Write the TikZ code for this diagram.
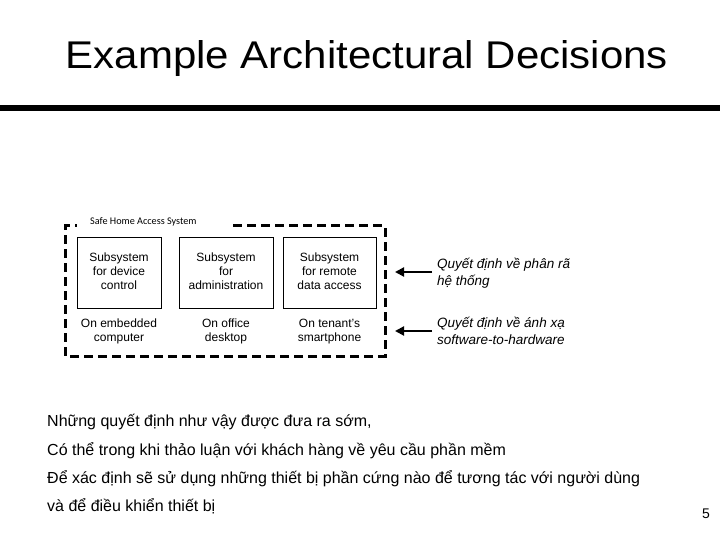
\documentclass[tikz,border=0pt]{standalone}
\usepackage{fontspec}
\setmainfont{Liberation Sans}
\newfontfamily\smallfont{Carlito}
\usetikzlibrary{arrows.meta}
\tikzset{
  subsys/.style={draw, line width=0.8bp, minimum height=71bp, align=center, inner sep=0pt,
    font=\fontsize{12bp}{14bp}\selectfont},
  hostlbl/.style={align=center, inner sep=0pt, font=\fontsize{12bp}{14bp}\selectfont},
  decision/.style={align=left, anchor=west, inner sep=0pt, font=\fontsize{13.5bp}{16.5bp}\selectfont\itshape},
  decarrow/.style={line width=2bp, -{Triangle[length=9bp,width=9bp]}},
  bodytext/.style={anchor=base west, inner sep=0pt, font=\fontsize{16bp}{18bp}\selectfont},
  frame/.style={line width=3bp, dash pattern=on 9bp off 5bp},
}
\begin{document}
\begin{tikzpicture}[x=1bp,y=-1bp]
\useasboundingbox (0,0) rectangle (720,540);
% title
\node[anchor=base, inner sep=0pt] (title) at (367,68.5)
  {\resizebox{602bp}{28bp}{\fontsize{40bp}{48bp}\selectfont Example Architectural Decisions}};
\fill (0,105) rectangle (720,111);
% frame
\draw[frame] (233,226) -- (385,226) -- (385,356) -- (65,356) -- (65,226) -- (77,226);
\node[anchor=base west, inner sep=0pt, font=\smallfont\fontsize{10.2bp}{11bp}\selectfont] (sys) at (90,225) {Safe Home Access System};
% subsystems
\node[subsys, minimum width=84bp] (s1) at (119,272.5) {\strut Subsystem\\\strut for device\\\strut control};
\node[subsys, minimum width=94bp] (s2) at (226,272.5) {\strut Subsystem\\\strut for\\\strut administration};
\node[subsys, minimum width=93bp] (s3) at (329.5,272.5) {\strut Subsystem\\\strut for remote\\\strut data access};
\node[hostlbl] (h1) at (119,332) {\strut On embedded\\\strut computer};
\node[hostlbl] (h2) at (226,332) {\strut On office\\\strut desktop};
\node[hostlbl] (h3) at (329.5,332) {\strut On tenant's\\\strut smartphone};
% decisions
\node[decision] (d1) at (437,273) {Quyết định về phân rã\\hệ thống};
\node[decision] (d2) at (437,331) {Quyết định về ánh xạ\\software-to-hardware};
\coordinate (t1) at (395,272);
\coordinate (t2) at (395,331);
\draw[decarrow] (d1.west |- t1) ++(-5,0) coordinate (a1) (a1) -- (t1);
\draw[decarrow] (d2.west |- t2) ++(-5,0) coordinate (a2) (a2) -- (t2);
% body text
\node[bodytext] (b1) at (47,426.5) {Những quyết định như vậy được đưa ra sớm,};
\node[bodytext] (b2) at (47,455) {Có thể trong khi thảo luận với khách hàng về yêu cầu phần mềm};
\node[bodytext] (b3) at (47,483) {Để xác định sẽ sử dụng những thiết bị phần cứng nào để tương tác với người dùng};
\node[bodytext] (b4) at (47,511) {và để điều khiển thiết bị};
\node[anchor=base, inner sep=0pt, font=\fontsize{14bp}{16bp}\selectfont] (pg) at (706,518) {5};
\end{tikzpicture}
\end{document}
